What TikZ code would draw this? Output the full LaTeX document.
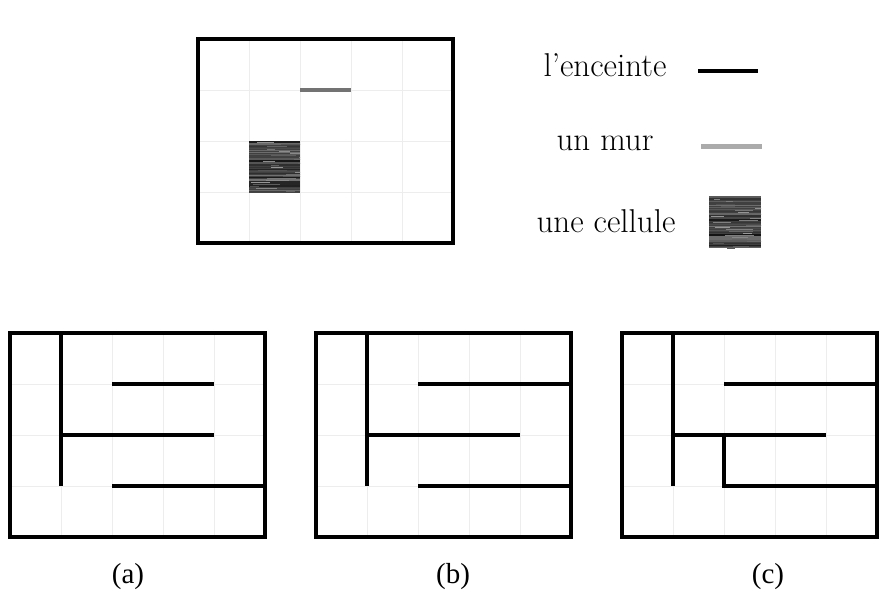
\documentclass[tikz,border=0pt]{standalone}
\usepackage{fontspec}
\newfontfamily\timesfont{Liberation Serif}
\newcommand\mazegrid{%
  \foreach \i in {1,...,4} \draw[gridline] (\i*51,0) -- (\i*51,204);
  \foreach \j in {1,...,3} \draw[gridline] (0,\j*51) -- (255,\j*51);}
% textured square for a cell: #1,#2 top-left corner, #3 side
\newcommand\cellpatch[3]{%
  \begin{scope}
    \clip (#1,#2) rectangle ++(#3,#3);
    \fill[black!75] (#1,#2) rectangle ++(#3,#3);
    \foreach \k in {0,...,24} {
      \pgfmathtruncatemacro\shadeA{55+rnd*40}
      \pgfmathtruncatemacro\shadeB{40+rnd*30}
      \pgfmathsetmacro\startB{rnd*#3}
      \pgfmathsetmacro\lenB{5+rnd*25}
      \draw[black!\shadeA, line width=1.4pt] (#1,#2+\k*2.1+1) -- ++(#3,0);
      \draw[black!\shadeB, line width=0.7pt] (#1+\startB,#2+\k*2.1+1.6) -- ++(\lenB,0);
    }
  \end{scope}}
\begin{document}
\begin{tikzpicture}[x=1pt,y=-1pt,
  gridline/.style={draw=black!7, line width=0.6pt},
  frame/.style={draw=black, line width=4.8pt},
  wall/.style={draw=black, line width=4.3pt},
  graywall/.style={draw=black!55, line width=3.6pt},
  legendgray/.style={draw=black!33, line width=5pt},
  legendtxt/.style={font=\fontsize{33}{40}\selectfont, anchor=base, inner sep=0pt},
  caption/.style={font=\timesfont\fontsize{29}{34}\selectfont, anchor=base, inner sep=0pt}]
\pgfmathsetseed{7}
\useasboundingbox (0,0) rectangle (880,591);

% top example board
\begin{scope}[shift={(198,39)}]
  \mazegrid
\end{scope}
\cellpatch{249}{141}{51}
\draw[graywall] (300,90) -- (351,90);
\draw[frame] (198,39) rectangle (453,243);

% legend
\node[legendtxt] (lenc) at (605,77) {l'enceinte};
\node[legendtxt] (lmur) at (605,150) {un mur};
\node[legendtxt] (lcell) at (606,232) {une cellule};
\draw[frame] (698,71) -- (758,71);
\draw[legendgray] (701,146) -- (762,146);
\cellpatch{709}{196}{52}

% maze (a)
\begin{scope}[shift={(10,333)}]
  \mazegrid
  \draw[wall] (51,0) -- (51,153);
  \draw[wall] (102,51) -- (204,51);
  \draw[wall] (51,102) -- (204,102);
  \draw[wall] (102,153) -- (255,153);
  \draw[frame] (0,0) rectangle (255,204);
\end{scope}

% maze (b)
\begin{scope}[shift={(316,333)}]
  \mazegrid
  \draw[wall] (51,0) -- (51,153);
  \draw[wall] (102,51) -- (255,51);
  \draw[wall] (51,102) -- (204,102);
  \draw[wall] (102,153) -- (255,153);
  \draw[frame] (0,0) rectangle (255,204);
\end{scope}

% maze (c)
\begin{scope}[shift={(622,333)}]
  \mazegrid
  \draw[wall] (51,0) -- (51,153);
  \draw[wall] (102,51) -- (255,51);
  \draw[wall] (51,102) -- (204,102);
  \draw[wall, line join=miter] (102,102) -- (102,153) -- (255,153);
  \draw[frame] (0,0) rectangle (255,204);
\end{scope}

% captions
\node[caption] (capa) at (128,583) {(a)};
\node[caption] (capb) at (453,583) {(b)};
\node[caption] (capc) at (768,583) {(c)};
\end{tikzpicture}
\end{document}
